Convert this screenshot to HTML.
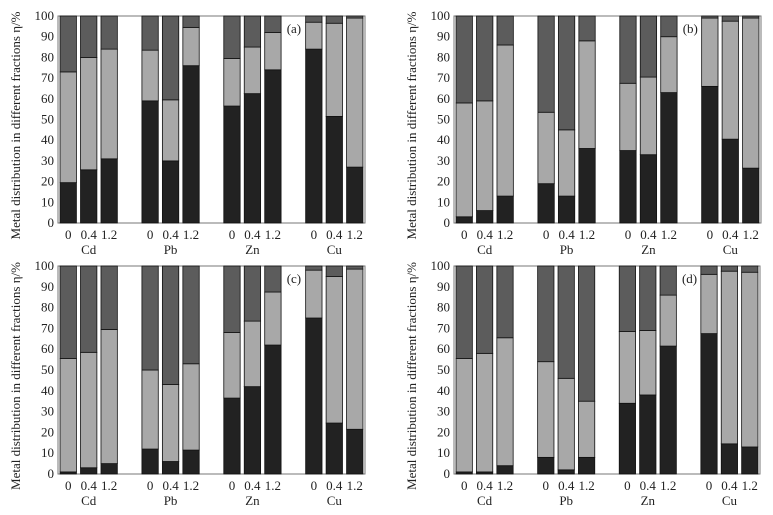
<!DOCTYPE html>
<html><head><meta charset="utf-8">
<style>
html,body{margin:0;padding:0;background:#fff;}
svg, svg text{font-family:"Liberation Serif","Times New Roman",serif;}
svg{display:block;}
</style></head>
<body>
<svg id="chart" width="773" height="515" viewBox="0 0 773 515" xmlns="http://www.w3.org/2000/svg" font-family="Liberation Serif, serif"></svg>
<script>
const metals = ["Cd","Pb","Zn","Cu"];
const doses = ["0","0.4","1.2"];
const yTicks = [0,10,20,30,40,50,60,70,80,90,100];
const panelLabels = ["(a)","(b)","(c)","(d)"];
// bottom (black) fraction per bar, order Cd0,Cd0.4,Cd1.2,Pb...,Cu
const blackA = [19.5,25.7,31, 59,30,76, 56.5,62.5,74, 84,51.5,27];
const midA   = [53.5,54.3,53, 24.5,29.5,18.5, 23,22.5,18, 13,45,72];
const blackB = [3,6,13, 19,13,36, 35,33,63, 66,40.5,26.5];
const midB   = [55,53,73, 34.5,32,52, 32.5,37.5,27, 33,57,72.5];
const blackC = [1,3,5, 12,6,11.5, 36.5,42,62, 75,24.5,21.5];
const midC   = [54.5,55.5,64.5, 38,37,41.5, 31.5,31.5,25.5, 23,70.5,77];
const blackD = [1,1,4, 8,2,8, 34,38,61.5, 67.5,14.5,13];
const midD   = [54.5,57,61.5, 46,44,27, 34.5,31,24.5, 28.5,83,84];

const panels = [
  {x0:58,x1:365,y0:16,y1:223,black:blackA,mid:midA},
  {x0:454,x1:761,y0:16,y1:223,black:blackB,mid:midB},
  {x0:58,x1:365,y0:266,y1:474,black:blackC,mid:midC},
  {x0:454,x1:760,y0:266,y1:474,black:blackD,mid:midD}
];
const NS="http://www.w3.org/2000/svg";
const svg=document.getElementById('chart');
function mk(tag,attrs,parent,text){const e=document.createElementNS(NS,tag);for(const k in attrs)e.setAttribute(k,attrs[k]);if(text!==undefined)e.textContent=text;parent.appendChild(e);return e;}
const FF='Liberation Serif, serif';

panels.forEach((p,pi)=>{
  const g=mk('g',{},svg);
  
  
  const slot=(p.x1-p.x0)/15;
  const bw=slot*0.8;
  const yS=v=>p.y1-(v/100)*(p.y1-p.y0);
  const xS=i=>p.x0+(Math.floor(i/3)*4+(i%3))*slot+(slot-bw)/2;
  const frame=mk('rect',{x:p.x0,y:p.y0,width:p.x1-p.x0,height:p.y1-p.y0,fill:'none',stroke:'#777','stroke-width':1},g);
  
  
  yTicks.forEach(t=>{
    const tl=mk('text',{x:p.x0-4,y:yS(t)+4,'text-anchor':'end','font-size':13,'font-family':FF,fill:'#222'},g,String(t));
    
    
  });
  for(let i=0;i<12;i++){
    const b=p.black[i],m=p.mid[i];
    const x=xS(i);
    const segs=[[0,b,'#222'],[b,b+m,'#a8a8a8'],[b+m,100,'#5c5c5c']];
    segs.forEach((s,si)=>{
      const r=mk('rect',{x:x,y:yS(s[1]),width:bw,height:yS(s[0])-yS(s[1]),fill:s[2],stroke:'#111','stroke-width':0.8},g);
      
      
    });
    const xl=mk('text',{x:x+bw/2,y:p.y1+16,'text-anchor':'middle','font-size':13,'font-family':FF,fill:'#222'},g,doses[i%3]);
    
    
  }
  metals.forEach((mt,k)=>{
    const cx=p.x0+(k*4+1.5)*slot;
    const ml=mk('text',{x:cx,y:p.y1+31,'text-anchor':'middle','font-size':13,'font-family':FF,fill:'#222'},g,mt);
    
    
  });
  const pl=mk('text',{x:p.x0+(p.x1-p.x0)*0.745,y:p.y0+17,'font-size':13,'font-family':FF,fill:'#222'},g,panelLabels[pi]);
  
  
  const cy=(p.y0+p.y1)/2+6;
  const yt=mk('text',{x:0,y:0,'text-anchor':'middle','font-size':13,'font-family':FF,fill:'#222',transform:'translate('+(p.x0-38)+','+cy+') rotate(-90)'},g,'Metal distribution in different fractions   η/%');
  
  
});
</script>
</body></html>
